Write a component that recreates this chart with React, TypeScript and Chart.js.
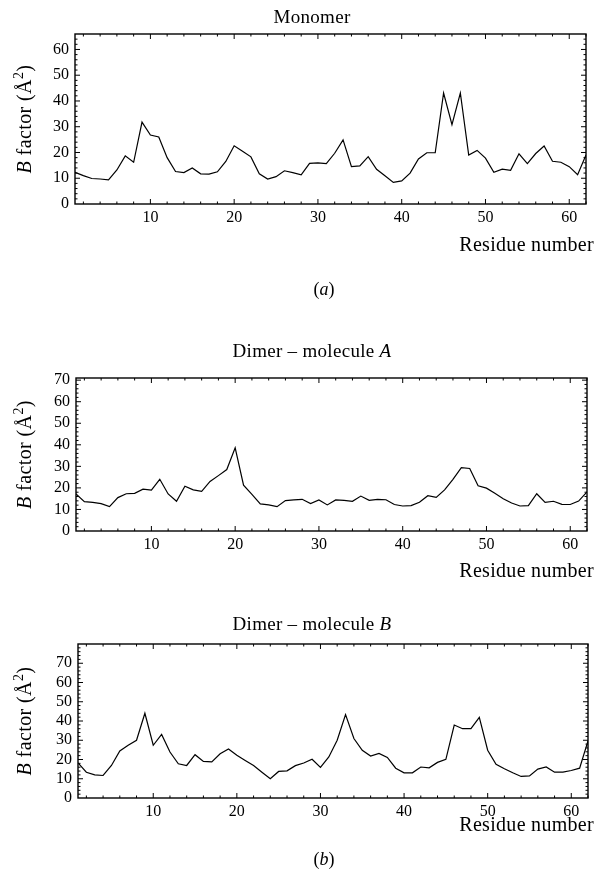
import React, { useEffect, useRef } from "react";
import { Chart, registerables } from "chart.js";

Chart.register(...registerables);

// ---------- data ----------
const residues = [
  1, 2, 3, 4, 5, 6, 7, 8, 9, 10, 11, 12, 13, 14, 15, 16, 17, 18, 19, 20,
  21, 22, 23, 24, 25, 26, 27, 28, 29, 30, 31, 32, 33, 34, 35, 36, 37, 38, 39, 40,
  41, 42, 43, 44, 45, 46, 47, 48, 49, 50, 51, 52, 53, 54, 55, 56, 57, 58, 59, 60,
  61, 62,
];

const monomerB = [
  12.3, 11.0, 9.9, 9.7, 9.4, 13.2, 18.7, 16.2, 31.8, 26.8,
  26.0, 18.0, 12.6, 12.2, 14.0, 11.7, 11.6, 12.5, 16.5, 22.6,
  20.5, 18.3, 11.7, 9.7, 10.6, 12.9, 12.2, 11.3, 15.8, 16.0,
  15.7, 19.7, 24.9, 14.5, 14.8, 18.4, 13.5, 11.0, 8.4, 9.0,
  12.0, 17.5, 19.9, 19.9, 43.1, 30.8, 43.1, 19.0, 20.8, 17.8,
  12.3, 13.5, 13.1, 19.5, 15.7, 19.6, 22.5, 16.6, 16.2, 14.5,
  11.4, 19.0,
];

const dimerAB = [
  17.2, 13.6, 13.3, 12.7, 11.3, 15.5, 17.3, 17.5, 19.4, 19.0,
  24.0, 17.2, 13.8, 20.8, 19.1, 18.4, 23.0, 25.7, 28.5, 38.6,
  21.3, 17.0, 12.6, 12.1, 11.3, 14.1, 14.4, 14.7, 12.7, 14.4,
  12.1, 14.4, 14.2, 13.8, 16.2, 14.2, 14.7, 14.5, 12.3, 11.6,
  11.8, 13.3, 16.4, 15.6, 19.1, 24.0, 29.4, 29.0, 21.0, 19.9,
  17.5, 15.0, 13.0, 11.6, 11.8, 17.3, 13.3, 13.8, 12.4, 12.3,
  13.9, 18.2,
];

const dimerBB = [
  18.2, 13.4, 12.0, 11.7, 16.9, 24.4, 27.4, 30.0, 44.0, 27.4,
  33.0, 23.9, 17.8, 16.9, 22.5, 19.0, 18.8, 23.0, 25.5, 22.2,
  19.5, 16.9, 13.4, 10.0, 13.8, 14.1, 16.8, 18.2, 20.1, 15.9,
  21.3, 30.0, 43.3, 30.9, 24.8, 21.8, 23.2, 21.1, 15.5, 13.1,
  13.1, 16.1, 15.7, 18.5, 20.1, 37.9, 36.0, 36.0, 41.9, 24.8,
  17.5, 15.2, 13.1, 11.2, 11.5, 15.0, 16.1, 13.4, 13.4, 14.3,
  15.5, 29.7,
];

const xTickValues = [10, 20, 30, 40, 50, 60];
const yTicksMonomer = [0, 10, 20, 30, 40, 50, 60];
const yTicksDimer = [0, 10, 20, 30, 40, 50, 60, 70];

const SERIF = '"Liberation Serif", "Times New Roman", serif';
const W = 597;

type Run = { text: string; italic?: boolean; size?: number; dy?: number };

type Panel = {
  values: number[];
  canvasTop: number;
  canvasHeight: number;
  plot: { left: number; right: number; top: number; bottom: number };
  yMax: number;
  yTicks: number[];
  title: Run[];
  titleX: number;
  titleY: number;
  residueY: number;
  sub?: Run[];
  subY?: number;
  subX?: number;
};

const panels: Panel[] = [
  {
    values: monomerB,
    canvasTop: 0,
    canvasHeight: 305,
    plot: { left: 75, right: 586, top: 34, bottom: 204 },
    yMax: 66,
    yTicks: yTicksMonomer,
    title: [{ text: "Monomer" }],
    titleX: 312,
    titleY: 18,
    residueY: 246,
    sub: [{ text: "(" }, { text: "a", italic: true }, { text: ")" }],
    subX: 324,
    subY: 290,
  },
  {
    values: dimerAB,
    canvasTop: 330,
    canvasHeight: 262,
    plot: { left: 76, right: 587, top: 378, bottom: 531 },
    yMax: 71,
    yTicks: yTicksDimer,
    title: [{ text: "Dimer \u2013 molecule " }, { text: "A", italic: true }],
    titleX: 312,
    titleY: 352,
    residueY: 572,
  },
  {
    values: dimerBB,
    canvasTop: 600,
    canvasHeight: 271,
    plot: { left: 78, right: 588, top: 644, bottom: 798 },
    yMax: 80,
    yTicks: yTicksDimer,
    title: [{ text: "Dimer \u2013 molecule " }, { text: "B", italic: true }],
    titleX: 312,
    titleY: 625,
    residueY: 826,
    sub: [{ text: "(" }, { text: "b", italic: true }, { text: ")" }],
    subX: 324,
    subY: 860,
  },
];

function fontFor(r: Run, base: number) {
  const size = r.size ?? base;
  return `${r.italic ? "italic " : ""}${size}px ${SERIF}`;
}

function drawRuns(
  ctx: CanvasRenderingContext2D,
  runs: Run[],
  x: number,
  y: number,
  align: "left" | "center" | "right",
  base: number,
  spacing = 0
) {
  const c: any = ctx;
  c.letterSpacing = `${spacing}px`;
  let total = 0;
  for (const r of runs) {
    ctx.font = fontFor(r, base);
    total += ctx.measureText(r.text).width;
  }
  let cx = align === "left" ? x : align === "center" ? x - total / 2 : x - total;
  ctx.textAlign = "left";
  ctx.textBaseline = "middle";
  for (const r of runs) {
    ctx.font = fontFor(r, base);
    ctx.fillText(r.text, cx, y + (r.dy ?? 0));
    cx += ctx.measureText(r.text).width;
  }
  c.letterSpacing = "0px";
}

function makeFramePlugin(panel: Panel) {
  return {
    id: "frameAndText",
    afterDraw(chart: any) {
      const ctx: CanvasRenderingContext2D = chart.ctx;
      const area = chart.chartArea;
      const xs = chart.scales.x;
      const ys = chart.scales.y;
      const off = panel.canvasTop;
      ctx.save();
      ctx.strokeStyle = "#000";
      ctx.fillStyle = "#000";
      // frame
      ctx.lineWidth = 1.4;
      ctx.strokeRect(area.left, area.top, area.right - area.left, area.bottom - area.top);
      // ticks
      ctx.lineWidth = 1;
      ctx.beginPath();
      for (let v = 2; v <= 62; v += 2) {
        const px = xs.getPixelForValue(v);
        const len = v % 10 === 0 ? 5 : 2.5;
        ctx.moveTo(px, area.bottom);
        ctx.lineTo(px, area.bottom - len);
        ctx.moveTo(px, area.top);
        ctx.lineTo(px, area.top + len);
      }
      for (let v = 2; v < panel.yMax; v += 2) {
        const py = ys.getPixelForValue(v);
        const len = v % 10 === 0 ? 5 : 2.5;
        ctx.moveTo(area.left, py);
        ctx.lineTo(area.left + len, py);
        ctx.moveTo(area.right, py);
        ctx.lineTo(area.right - len, py);
      }
      ctx.stroke();

      // texts
      drawRuns(ctx, panel.title, panel.titleX, panel.titleY - off, "center", 19, 0.3);
      drawRuns(ctx, [{ text: "Residue number" }], 594, panel.residueY - off, "right", 20, 0.3);
      if (panel.sub) {
        drawRuns(ctx, panel.sub, panel.subX!, panel.subY! - off, "center", 18);
      }
      // y title
      ctx.save();
      ctx.translate(26, (area.top + area.bottom) / 2);
      ctx.rotate(-Math.PI / 2);
      drawRuns(
        ctx,
        [
          { text: "B", italic: true },
          { text: " factor (\u00C5" },
          { text: "2", size: 14, dy: -7 },
          { text: ")" },
        ],
        0,
        0,
        "center",
        20,
        0.4
      );
      ctx.restore();
      ctx.restore();
    },
  };
}

function PanelChart({ panel }: { panel: Panel }) {
  const ref = useRef<HTMLCanvasElement | null>(null);
  useEffect(() => {
    const canvas = ref.current;
    if (!canvas) return;
    const p = panel.plot;
    const chart = new Chart(canvas, {
      type: "line",
      data: {
        datasets: [
          {
            data: residues.map((r, i) => ({ x: r, y: panel.values[i] })),
            borderColor: "#000",
            borderWidth: 1.2,
            pointRadius: 0,
            tension: 0,
            fill: false,
          },
        ],
      },
      options: {
        animation: false,
        responsive: false,
        devicePixelRatio: 1,
        layout: {
          padding: {
            left: 0,
            right: W - p.right,
            top: p.top - panel.canvasTop,
            bottom: 0,
          },
        },
        plugins: {
          legend: { display: false },
          tooltip: { enabled: false },
          title: { display: false },
        },
        scales: {
          x: {
            type: "linear",
            min: 1,
            max: 62,
            grid: { display: false, drawTicks: false },
            border: { display: false },
            ticks: {
              color: "#000",
              font: { family: SERIF, size: 16 },
              padding: 4,
              maxRotation: 0,
              autoSkip: false,
            },
            afterBuildTicks: (s: any) => {
              s.ticks = xTickValues.map((v) => ({ value: v }));
            },
            afterFit: (s: any) => {
              s.height = panel.canvasTop + panel.canvasHeight - p.bottom;
            },
          },
          y: {
            type: "linear",
            min: 0,
            max: panel.yMax,
            grid: { display: false, drawTicks: false },
            border: { display: false },
            ticks: {
              color: "#000",
              font: { family: SERIF, size: 16 },
              padding: 6,
              autoSkip: false,
            },
            afterBuildTicks: (s: any) => {
              s.ticks = panel.yTicks.map((v) => ({ value: v }));
            },
            afterFit: (s: any) => {
              s.width = p.left;
            },
          },
        },
      },
      plugins: [makeFramePlugin(panel)],
    } as any);
    return () => chart.destroy();
  }, [panel]);
  return (
    <canvas
      ref={ref}
      width={W}
      height={panel.canvasHeight}
      style={{
        position: "absolute",
        left: 0,
        top: panel.canvasTop,
        width: W,
        height: panel.canvasHeight,
      }}
    />
  );
}

export default function App() {
  return (
    <div
      style={{
        position: "absolute",
        left: 0,
        top: 0,
        width: W,
        height: 871,
        background: "#fff",
        overflow: "hidden",
      }}
    >
      {panels.map((p, i) => (
        <PanelChart key={i} panel={p} />
      ))}
    </div>
  );
}
